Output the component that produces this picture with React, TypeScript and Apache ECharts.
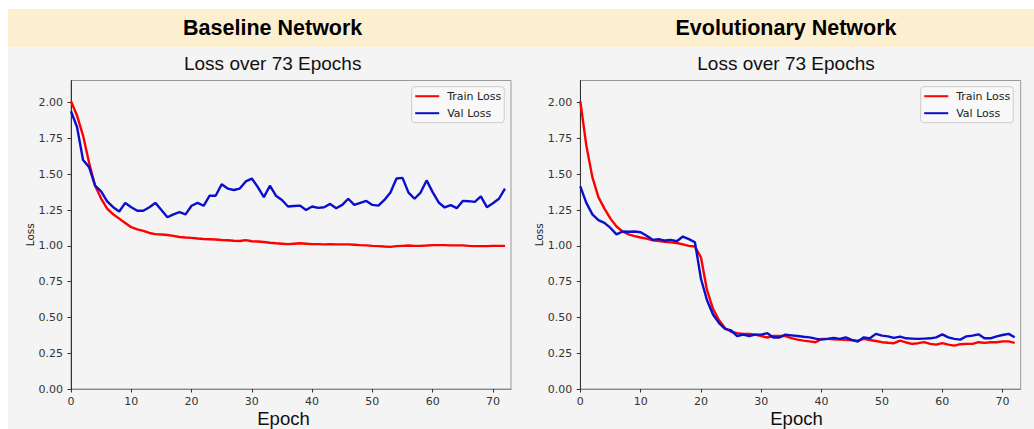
import { useEffect, useRef } from "react";
import * as echarts from "echarts";

const epochs = Array.from({ length: 73 }, (_, i) => i);
const xTicks = [0, 10, 20, 30, 40, 50, 60, 70];
const yTicks = [0, 0.25, 0.5, 0.75, 1.0, 1.25, 1.5, 1.75, 2.0];

const baseTrain = [
  2.01, 1.91, 1.77, 1.58, 1.42, 1.33, 1.26, 1.22, 1.19, 1.16,
  1.13, 1.115, 1.105, 1.09, 1.082, 1.079, 1.076, 1.07, 1.062, 1.058,
  1.056, 1.051, 1.048, 1.046, 1.044, 1.041, 1.039, 1.036, 1.034, 1.04,
  1.032, 1.03, 1.027, 1.022, 1.018, 1.015, 1.012, 1.015, 1.018, 1.015,
  1.012, 1.012, 1.01, 1.012, 1.01, 1.01, 1.01, 1.008, 1.005, 1.003,
  1.0, 0.998, 0.995, 0.993, 0.998, 1.0, 1.002, 1.0, 1.0, 1.002,
  1.005, 1.005, 1.005, 1.003, 1.003, 1.003, 1.0, 0.998, 0.998, 0.998,
  1.0, 1.0, 1.0,
];
const baseVal = [
  1.94, 1.83, 1.6, 1.55, 1.42, 1.38, 1.31, 1.27, 1.24, 1.3,
  1.27, 1.245, 1.245, 1.27, 1.3, 1.25, 1.2, 1.22, 1.235, 1.22,
  1.28, 1.3, 1.28, 1.35, 1.35, 1.43, 1.4, 1.39, 1.4, 1.45,
  1.47, 1.41, 1.34, 1.42, 1.35, 1.32, 1.275, 1.278, 1.281, 1.25,
  1.275, 1.265, 1.27, 1.293, 1.263, 1.286, 1.329, 1.286, 1.3, 1.314,
  1.286, 1.281, 1.321, 1.372, 1.47, 1.475, 1.372, 1.329, 1.372, 1.457,
  1.375, 1.303, 1.268, 1.284, 1.263, 1.314, 1.312, 1.307, 1.345, 1.27,
  1.298, 1.329, 1.399,
];
const evoTrain = [
  2.01, 1.7, 1.48, 1.34, 1.26, 1.19, 1.135, 1.1, 1.08, 1.068,
  1.058, 1.05, 1.038, 1.033, 1.028, 1.024, 1.02, 1.01, 1.0, 0.995,
  0.92, 0.69, 0.56, 0.48, 0.425, 0.4, 0.39, 0.385, 0.385, 0.38,
  0.37, 0.36, 0.37, 0.37, 0.37, 0.355, 0.345, 0.338, 0.333, 0.327,
  0.35, 0.35, 0.348, 0.345, 0.343, 0.34, 0.338, 0.35, 0.342, 0.335,
  0.327, 0.323, 0.32, 0.338, 0.325, 0.315, 0.32, 0.327, 0.315, 0.31,
  0.32, 0.31, 0.303, 0.313, 0.315, 0.315, 0.327, 0.322, 0.327, 0.327,
  0.333, 0.333, 0.322,
];
const evoVal = [
  1.415, 1.3, 1.22, 1.18, 1.16, 1.125, 1.08, 1.1, 1.098, 1.1,
  1.095, 1.07, 1.042, 1.047, 1.037, 1.042, 1.032, 1.065, 1.047, 1.025,
  0.77, 0.62, 0.52, 0.46, 0.42, 0.41, 0.37, 0.38, 0.37, 0.38,
  0.38, 0.39, 0.36, 0.36, 0.38, 0.375, 0.37, 0.365, 0.361, 0.352,
  0.345, 0.35, 0.357, 0.35, 0.361, 0.343, 0.332, 0.361, 0.354, 0.385,
  0.373, 0.368, 0.357, 0.366, 0.354, 0.352, 0.35, 0.352, 0.354, 0.361,
  0.382, 0.361, 0.35, 0.345, 0.368, 0.373, 0.382, 0.354, 0.354, 0.368,
  0.377, 0.385, 0.361,
];

const panelTitles = ["Baseline Network", "Evolutionary Network"];
const subTitle = "Loss over 73 Epochs";
const seriesNames = ["Train Loss", "Val Loss"];
const RED = "#ff0000";
const BLUE = "#0a0fcc";

export default function App() {
  const ref = useRef<HTMLDivElement>(null);
  useEffect(() => {
    const chart = echarts.init(ref.current!, null, { renderer: "svg" });
    const pair = (arr: number[]) => epochs.map((e, i) => [e, arr[i]]);

    const xAxis = (idx: number, shift: number) => ({
      type: "value",
      gridIndex: idx,
      min: 0,
      max: 73,
      interval: 10,
      splitLine: { show: false },
      axisLine: { lineStyle: { color: "#8a8a8a", width: 1 } },
      axisTick: { length: 3.5, customValues: xTicks, lineStyle: { color: "#333" } },
      axisLabel: {
        customValues: xTicks,
        color: "#333",
        fontFamily: "DejaVu Sans",
        fontSize: 11,
        margin: 7,
      },
      name: "Epoch",
      nameLocation: "middle",
      nameGap: 20,
      nameMoveOverlap: false,
      nameTextStyle: {
        fontFamily: "Liberation Sans",
        fontSize: 18.5,
        color: "#111",
        padding: [0, shift, 0, 0],
      },
    });
    const yAxis = (idx: number) => ({
      type: "value",
      gridIndex: idx,
      min: 0,
      max: 2.155,
      interval: 0.25,
      splitLine: { show: false },
      axisLine: { lineStyle: { color: "#333", width: 1 } },
      axisTick: { length: 3.5, customValues: yTicks, lineStyle: { color: "#333" } },
      axisLabel: {
        customValues: yTicks,
        formatter: (v: number) => v.toFixed(2),
        color: "#333",
        fontFamily: "DejaVu Sans",
        fontSize: 11,
        margin: 8,
      },
      name: "Loss",
      nameLocation: "middle",
      nameGap: 36,
      nameMoveOverlap: false,
      nameTextStyle: { fontFamily: "DejaVu Sans", fontSize: 10.5, color: "#222" },
    });
    const legend = (left: number) => ({
      data: seriesNames,
      orient: "vertical",
      left,
      top: 86.7,
      icon: "rect",
      itemWidth: 24,
      itemHeight: 2,
      itemGap: 0,
      padding: [1, 3, 1, 3.5],
      backgroundColor: "#f8f8f8",
      borderColor: "#cccccc",
      borderWidth: 1,
      borderRadius: 3,
      textStyle: {
        fontFamily: "DejaVu Sans",
        fontSize: 11,
        color: "#222",
        lineHeight: 17,
        padding: [0, 0, 0, 3],
      },
    });
    const line = (name: string, color: string, arr: number[], idx: number) => ({
      type: "line",
      name,
      xAxisIndex: idx,
      yAxisIndex: idx,
      data: pair(arr),
      showSymbol: false,
      symbol: "none",
      color,
      lineStyle: { color, width: 2.4 },
    });

    const centers = [272.7, 786];
    const graphic: any[] = [
      { type: "rect", shape: { x: 0, y: 0, width: 1034, height: 9 }, style: { fill: "#ffffff" } },
      { type: "rect", shape: { x: 0, y: 0, width: 8, height: 429 }, style: { fill: "#ffffff" } },
      { type: "rect", shape: { x: 8, y: 9, width: 1026, height: 38 }, style: { fill: "#fcefd0" } },
    ];
    panelTitles.forEach((t, i) => {
      graphic.push({
        type: "text",
        x: centers[i],
        y: 28,
        style: {
          text: t,
          font: 'bold 21.5px "Liberation Sans"',
          fill: "#000",
          align: "center",
          verticalAlign: "middle",
        },
      });
      graphic.push({
        type: "text",
        x: centers[i],
        y: 63,
        style: {
          text: subTitle,
          font: '19px "Liberation Sans"',
          fill: "#111",
          align: "center",
          verticalAlign: "middle",
        },
      });
    });

    const gridBase = {
      top: 80.5,
      height: 308.5,
      show: true,
      borderColor: "#999",
      borderWidth: 1,
      backgroundColor: "transparent",
      containLabel: false,
      outerBoundsMode: "none",
    };

    chart.setOption({
      animation: false,
      backgroundColor: "#f4f4f4",
      grid: [
        { ...gridBase, left: 71, width: 440 },
        { ...gridBase, left: 580.3, width: 440.4 },
      ],
      xAxis: [xAxis(0, 15), xAxis(1, 8)],
      yAxis: [yAxis(0), yAxis(1)],
      legend: [legend(411.7), legend(920.7)],
      series: [
        line(seriesNames[0], RED, baseTrain, 0),
        line(seriesNames[1], BLUE, baseVal, 0),
        line(seriesNames[0], RED, evoTrain, 1),
        line(seriesNames[1], BLUE, evoVal, 1),
      ],
      graphic,
    });
    return () => chart.dispose();
  }, []);
  return (
    <div
      ref={ref}
      style={{ position: "absolute", left: 0, top: 0, width: 1034, height: 429 }}
    />
  );
}
